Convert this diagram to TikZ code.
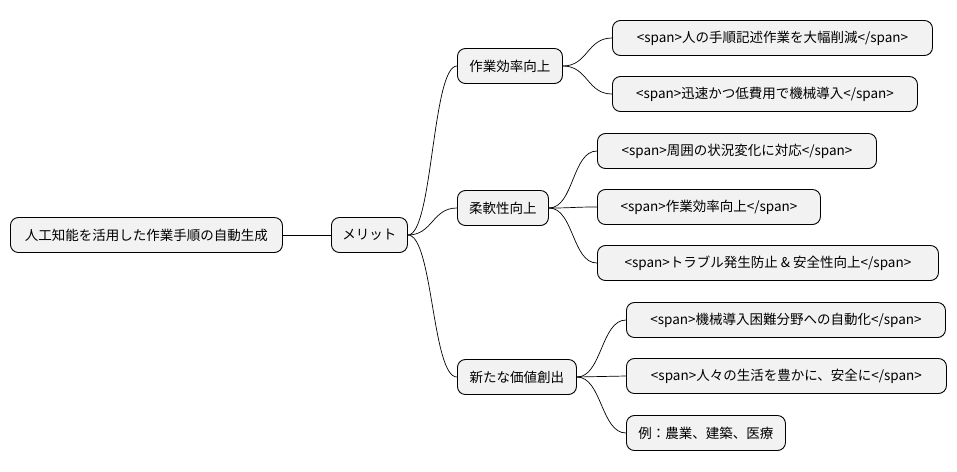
\documentclass[tikz,border=0pt]{standalone}
\usepackage{fontspec}
\setmainfont{Noto Sans CJK JP}
\begin{document}
\begin{tikzpicture}[x=1pt,y=-1pt,
  n/.style={draw=black,fill=black!5,rounded corners=8pt,line width=0.9pt,minimum height=35pt,inner xsep=4pt,anchor=west,font=\fontsize{13.5}{15}\selectfont,minimum width=#1},
  c/.style={line width=0.7pt}]
\useasboundingbox (0,0) rectangle (957,471);
\node[n=272pt] (r) at (10,235) {人工知能を活用した作業手順の自動生成};
\node[n=76pt] (m) at (331,235) {メリット};
\node[n=105pt] (a) at (457,66) {作業効率向上};
\node[n=91pt] (b) at (457,208) {柔軟性向上};
\node[n=119pt] (c) at (457,377) {新たな価値創出};
\node[n=320pt] (a1) at (612,38) {<span>人の手順記述作業を大幅削減</span>};
\node[n=305pt] (a2) at (612,94) {<span>迅速かつ低費用で機械導入</span>};
\node[n=279pt] (b1) at (597,151) {<span>周囲の状況変化に対応</span>};
\node[n=223pt] (b2) at (597,207) {<span>作業効率向上</span>};
\node[n=341pt] (b3) at (597,263) {<span>トラブル発生防止 \& 安全性向上</span>};
\node[n=319pt] (c1) at (626,320) {<span>機械導入困難分野への自動化</span>};
\node[n=320pt] (c2) at (626,376) {<span>人々の生活を豊かに、安全に</span>};
\node[n=159pt] (c3) at (626,433) {例：農業、建築、医療};
\draw[c] (r.east) -- (m.west);
\foreach \p/\k in {m/a,m/b,m/c,a/a1,a/a2,b/b1,b/b2,b/b3,c/c1,c/c2,c/c3}{
  \draw[c] (\p.east) .. controls ([xshift=25]\p.east) and ([xshift=-25]\k.west) .. (\k.west);
}
\end{tikzpicture}
\end{document}
